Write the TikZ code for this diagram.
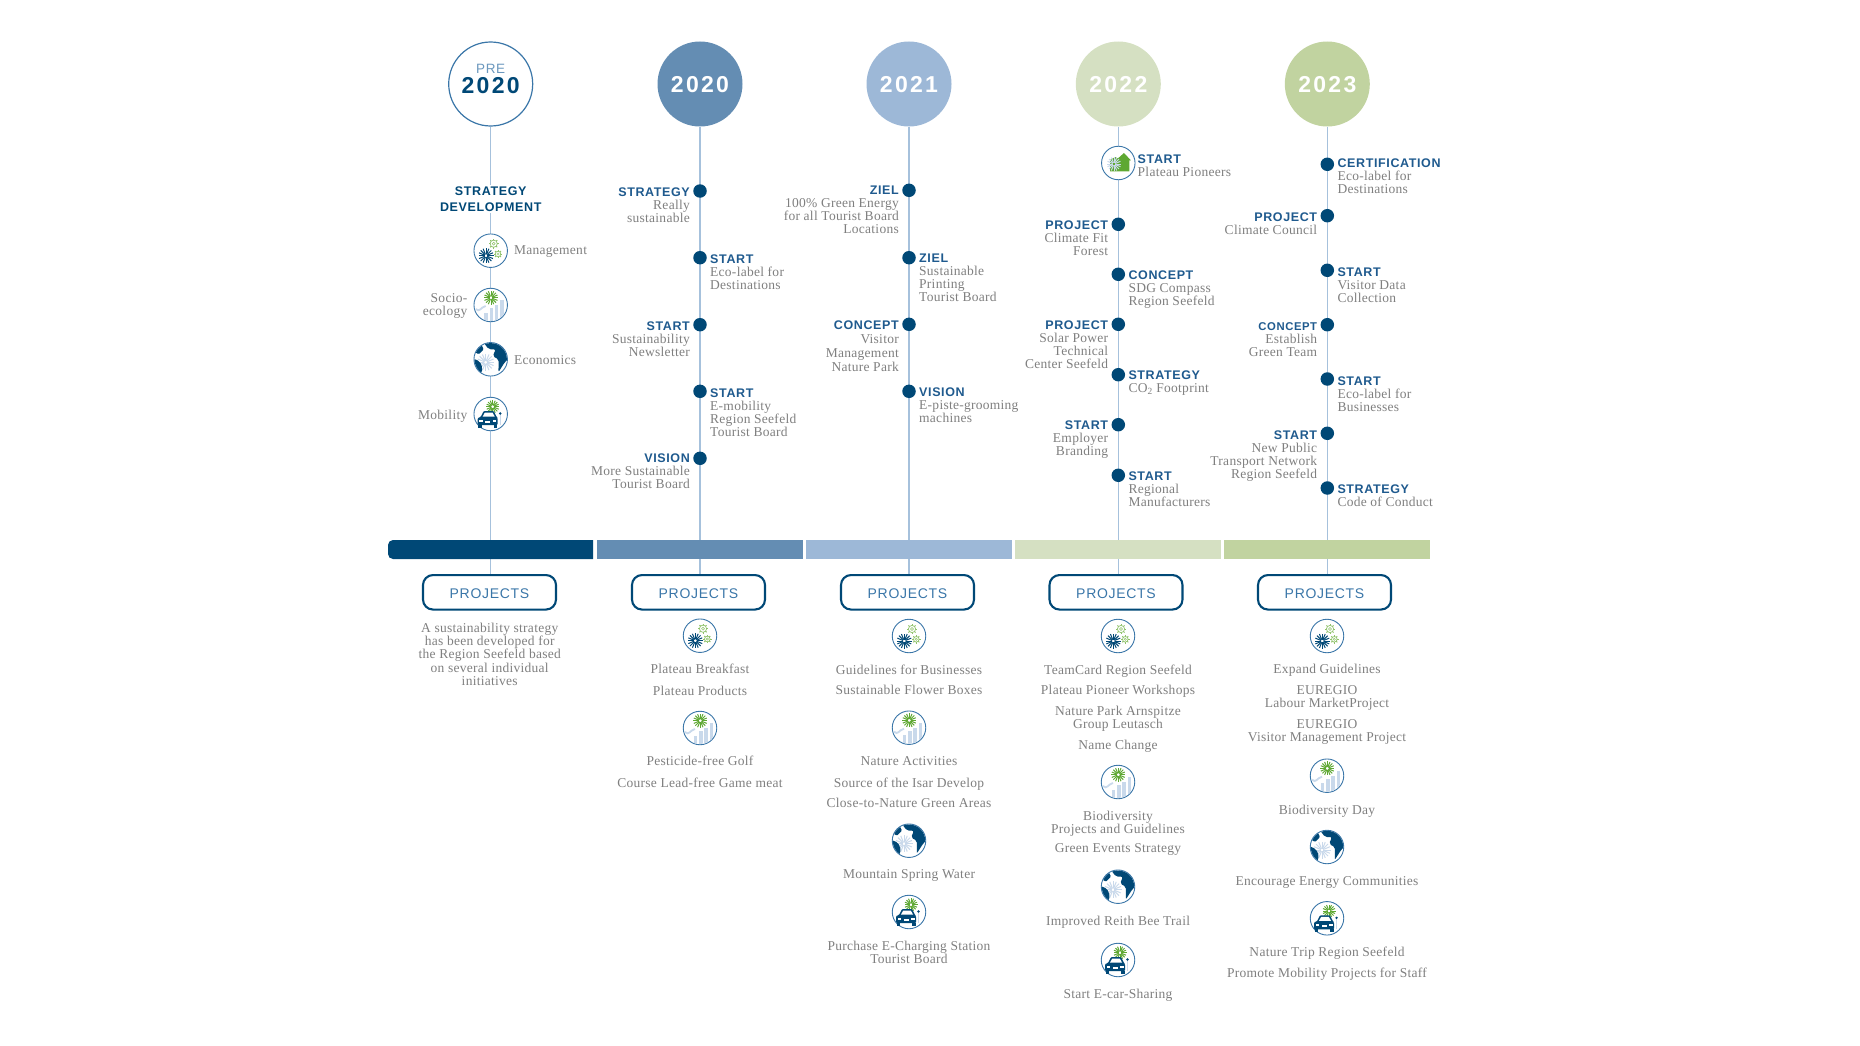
\documentclass[tikz,border=0pt]{standalone}
\usepackage{fontspec}
\usepackage{tikz}
\usetikzlibrary{shapes,arrows,positioning}
\setmainfont[LetterSpace=2]{Liberation Serif}
\newfontfamily\headfont[LetterSpace=5]{Liberation Sans}
\newfontfamily\yearfont[LetterSpace=10]{Liberation Sans}
\newfontfamily\boxfont[LetterSpace=5]{Liberation Sans}
\definecolor{navy}{HTML}{004876}
\definecolor{steelb}{HTML}{648DB3}
\definecolor{paleb}{HTML}{9DB8D7}
\definecolor{palegr}{HTML}{D5E0C2}
\definecolor{midgr}{HTML}{C1D3A0}
\definecolor{headblue}{HTML}{1F5A8E}
\definecolor{linkblue}{HTML}{A6C1DC}
\definecolor{ringblue}{HTML}{3A76A8}
\definecolor{bodygrey}{HTML}{7F7F7F}
\definecolor{leaf}{HTML}{5EA832}
\definecolor{softleaf}{HTML}{8FC26A}
\definecolor{citylight}{HTML}{C9D9EB}
\newcommand{\hd}[1]{{\headfont\fontsize{12.5}{13}\selectfont\bfseries\color{headblue}#1}}
\newcommand{\hds}[1]{{\headfont\fontsize{11.3}{13}\selectfont\bfseries\color{headblue}#1}}
\newcommand{\iconburst}[3]{\foreach \a in {0,22.5,...,337.5} \draw[#3,line width=1pt] (#1) ++(\a:1.4) -- ++(\a:#2-1.4);}
\newcommand{\iconcog}[2]{\draw[softleaf,line width=.7pt] (#1) circle (#2pt); \draw[softleaf,line width=.5pt] (#1) circle (#2pt*.4);
  \foreach \a in {0,45,...,315} \draw[softleaf,line width=1pt] (#1) ++(\a:#2) -- ++(\a:1.4);}
\begin{document}
\begin{tikzpicture}[x=1pt,y=-1pt,
  yearnode/.style={circle,minimum size=85pt,inner sep=0,text=white,font=\yearfont\fontsize{23}{22}\selectfont\bfseries},
  yeartext/.style={text height=18pt,text depth=0pt},
  projbox/.style={draw=navy,line width=2.1pt,rounded corners=10pt,minimum width=133pt,minimum height=34.5pt,inner sep=0,text height=12pt,text depth=0pt,text=ringblue,font=\boxfont\fontsize{14}{14}\selectfont},
  timeline/.style={linkblue,line width=1.5pt},
  barseg/.style={minimum height=19pt,inner sep=0,outer sep=0},
  dotnode/.style={circle,fill=navy,minimum size=13.5pt,inner sep=0},
  iconring/.style={circle,draw=ringblue,line width=.9pt,fill=white,minimum size=33.5pt,inner sep=0},
  side/.style={yshift=-1.2pt,inner sep=0,text=bodygrey,font=\fontsize{13.5}{13}\selectfont},
  lblR/.style={anchor=north east,xshift=-10pt,yshift=3.8pt,align=right,inner sep=0,text=bodygrey,font=\fontsize{13.5}{13}\selectfont},
  lblL/.style={anchor=north west,xshift=10pt,yshift=3.8pt,align=left,inner sep=0,text=bodygrey,font=\fontsize{13.5}{13}\selectfont},
  item/.style={anchor=north,align=center,inner sep=0,text=bodygrey,font=\fontsize{13.5}{13}\selectfont},
  pics/gears/.style={code={
    \node[iconring] (-ring) at (0,0) {};
    \iconburst{-4.7,5}{7.5}{navy}
    \iconcog{3,-7}{3.6}
    \iconcog{7.3,3.3}{2.8}
  }},
  pics/city/.style={code={
    \node[iconring] (-ring) at (0,0) {};
    \begin{scope}
      \clip (0,0) circle (16pt);
      \fill[citylight] (-6.3,7.7) rectangle (-3,16);
      \fill[citylight] (-.7,3.3) rectangle (2.7,16);
      \fill[citylight] (4.3,0) rectangle (7.7,16);
      \fill[citylight] (9.7,-5) rectangle (13.3,13);
      \draw[citylight,line width=1.8pt] (-15,4) .. controls (-11,8) and (-10,2) .. (-5,1);
    \end{scope}
    \iconburst{.3,-7.3}{7}{leaf}
  }},
  pics/globe/.style={code={
    \node[iconring] (-ring) at (0,0) {};
    \begin{scope}
      \clip (0,0) circle (16.2pt);
      \iconburst{-5,3}{8.5}{citylight}
      \fill[navy,rounded corners=2pt] (-8,-18) -- (-2,-10) -- (5,-10) -- (2,-3) -- (8,0) -- (7.7,13) -- (14,3) -- (18,-1) -- (18,-18) -- cycle;
      \fill[navy,rounded corners=2pt] (-18,-1) -- (-11,2) -- (-8,9) -- (-10,15) -- (-18,12) -- cycle;
      \fill[navy,rounded corners=1pt] (-17,-8) -- (-10,-16) -- (-7,-10) -- (-12,-5) -- cycle;
    \end{scope}
  }},
  pics/car/.style={code={
    \node[iconring] (-ring) at (0,0) {};
    \iconburst{2,-7.3}{6.5}{leaf}
    \fill[navy,rounded corners=1pt] (-10,3) -- (-7,-3) -- (3,-3) -- (6,3) -- (7,4) -- (7,11) -- (-13,11) -- (-13,4) -- cycle;
    \fill[white] (-8,2.5) -- (-5.8,-1.5) -- (1.8,-1.5) -- (4,2.5) -- cycle;
    \fill[white] (-11.5,5.5) rectangle (-8,7.5);
    \fill[white] (2,5.5) rectangle (5.5,7.5);
    \fill[white] (-5.5,7) rectangle (-.5,9);
    \fill[navy] (-12.5,11) rectangle (-9,13.5);
    \fill[navy] (3,11) rectangle (6.5,13.5);
    \draw[citylight,line width=1pt] (9.5,1) -- (9.5,11);
    \fill[navy] (9.5,-.5) circle (1.3pt);
  }},
  pics/house/.style={code={
    \node[iconring] (-ring) at (0,0) {};
    \fill[leaf] (-8.3,8.3) -- (-8.3,-3) -- (-3,-6) -- (-.5,-4.5) -- (5.7,-10) -- (12.5,-2.7) -- (11,-2.7) -- (11,8.3) -- cycle;
    \iconburst{-4.3,1}{7}{citylight}
  }}]
\useasboundingbox (0,0) rectangle (1860,1046);

\node[yearnode,draw=ringblue,line width=1.2pt,fill=white,minimum size=84pt,align=center,text=navy] (y0) at (490.7,84) {{\boxfont\fontsize{13.5}{12}\selectfont\mdseries\color{ringblue!75}PRE}\\[-2pt]2020\\[-11pt]\mbox{}};
\node[yearnode,yeartext,fill=steelb] (y1) at (700,84) {2020};
\node[yearnode,yeartext,fill=paleb] (y2) at (909,84) {2021};
\node[yearnode,yeartext,fill=palegr] (y3) at (1118.3,84) {2022};
\node[yearnode,yeartext,fill=midgr] (y4) at (1327.3,84) {2023};

\node[projbox] (p0) at (489.5,592.3) {PROJECTS};
\node[projbox] (p1) at (698.5,592.3) {PROJECTS};
\node[projbox] (p2) at (907.5,592.3) {PROJECTS};
\node[projbox] (p3) at (1116,592.3) {PROJECTS};
\node[projbox] (p4) at (1324.5,592.3) {PROJECTS};

\draw[timeline] (y0) -- (y0 |- p0.north);
\draw[timeline] (y1) -- (y1 |- p1.north);
\draw[timeline] (y2) -- (y2 |- p2.north);
\draw[timeline] (y3) -- (y3 |- p3.north);
\draw[timeline] (y4) -- (y4 |- p4.north);

\fill[navy] (593,540) -- (593,559) [rounded corners=5pt] -- (388,559) -- (388,540) [sharp corners] -- cycle;
\node[barseg,fill=steelb,minimum width=205.5pt] (b1) at (700,549.5) {};
\node[barseg,fill=paleb,minimum width=205.5pt] (b2) at (909,549.5) {};
\node[barseg,fill=palegr,minimum width=205.5pt] (b3) at (1118,549.5) {};
\node[barseg,fill=midgr,minimum width=205.5pt] (b4) at (1327,549.5) {};

\node[fill=white,inner sep=2pt,align=center,font=\headfont\fontsize{12.5}{16}\selectfont\bfseries,text=navy] (s0) at (490.7,199) {STRATEGY\\DEVELOPMENT};
\pic (m0) at (490.7,250.7) {gears};
\pic (e0) at (490.7,305) {city};
\pic (g0) at (490.7,359.3) {globe};
\pic (c0) at (490.7,414) {car};
\node[side,right=6pt of m0-ring] (tm0) {Management};
\node[side,align=right,left=6pt of e0-ring] (te0) {Socio-\\ecology};
\node[side,right=6pt of g0-ring] (tg0) {Economics};
\node[side,yshift=-1.2pt,left=6pt of c0-ring] (tc0) {Mobility};

\node[dotnode] (d11) at (700,191) {};
\node[dotnode] (d12) at (700,257.7) {};
\node[dotnode] (d13) at (700,324.7) {};
\node[dotnode] (d14) at (700,391.3) {};
\node[dotnode] (d15) at (700,458.3) {};
\node[lblR] (t11) at (d11) {\hd{STRATEGY}\\Really\\sustainable};
\node[lblL,yshift=-1pt] (t12) at (d12) {\hd{START}\\Eco-label for\\Destinations};
\node[lblR,yshift=-1pt] (t13) at (d13) {\hd{START}\\Sustainability\\Newsletter};
\node[lblL,yshift=-1pt] (t14) at (d14) {\hd{START}\\E-mobility\\Region Seefeld\\Tourist Board};
\node[lblR,yshift=1pt] (t15) at (d15) {\hd{VISION}\\More Sustainable\\Tourist Board};

\node[dotnode] (d21) at (909,190.3) {};
\node[dotnode] (d22) at (909,257.7) {};
\node[dotnode] (d23) at (909,324.3) {};
\node[dotnode] (d24) at (909,391.3) {};
\node[lblR,yshift=1pt] (t21) at (d21) {\hd{ZIEL}\\100\% Green Energy\\for all Tourist Board\\Locations};
\node[lblL] (t22) at (d22) {\hd{ZIEL}\\Sustainable\\Printing\\Tourist Board};
\node[lblR] (t23) at (d23) {\hd{CONCEPT}\\[1pt]Visitor\\[1pt]Management\\[1pt]Nature Park};
\node[lblL] (t24) at (d24) {\hd{VISION}\\E-piste-grooming\\machines};

\pic (h3) at (1118.3,163) {house};
\node[dotnode] (d32) at (1118.3,224.3) {};
\node[dotnode] (d33) at (1118.3,274.3) {};
\node[dotnode] (d34) at (1118.3,324.3) {};
\node[dotnode] (d35) at (1118.3,374.7) {};
\node[dotnode] (d36) at (1118.3,424.7) {};
\node[dotnode] (d37) at (1118.3,475.3) {};
\node[lblL,xshift=-8pt,yshift=5pt] (t31) at (h3-ring.east) {\hd{START}\\Plateau Pioneers};
\node[lblR] (t32) at (d32) {\hd{PROJECT}\\Climate Fit\\Forest};
\node[lblL] (t33) at (d33) {\hd{CONCEPT}\\SDG Compass\\Region Seefeld};
\node[lblR] (t34) at (d34) {\hd{PROJECT}\\Solar Power\\Technical\\Center Seefeld};
\node[lblL] (t35) at (d35) {\hd{STRATEGY}\\CO\textsubscript{2} Footprint};
\node[lblR] (t36) at (d36) {\hd{START}\\Employer\\Branding};
\node[lblL] (t37) at (d37) {\hd{START}\\Regional\\Manufacturers};

\node[dotnode] (d41) at (1327.3,164.3) {};
\node[dotnode] (d42) at (1327.3,215.7) {};
\node[dotnode] (d43) at (1327.3,270.3) {};
\node[dotnode] (d44) at (1327.3,324.7) {};
\node[dotnode] (d45) at (1327.3,379) {};
\node[dotnode] (d46) at (1327.3,433.3) {};
\node[dotnode] (d47) at (1327.3,488) {};
\node[lblL,yshift=2pt] (t41) at (d41) {\hd{CERTIFICATION}\\Eco-label for\\Destinations};
\node[lblR,yshift=-1pt] (t42) at (d42) {\hd{PROJECT}\\Climate Council};
\node[lblL,yshift=-1pt] (t43) at (d43) {\hd{START}\\Visitor Data\\Collection};
\node[lblR,yshift=-2pt] (t44) at (d44) {\hds{CONCEPT}\\Establish\\Green Team};
\node[lblL,yshift=-1pt] (t45) at (d45) {\hd{START}\\Eco-label for\\Businesses};
\node[lblR,yshift=-1pt] (t46) at (d46) {\hd{START}\\New Public\\Transport Network\\Region Seefeld};
\node[lblL] (t47) at (d47) {\hd{STRATEGY}\\Code of Conduct};

\node[item,font=\fontsize{13.5}{13.3}\selectfont] (a0) at (489.7,622.7) {A sustainability strategy\\has been developed for\\the Region Seefeld based\\on several individual\\initiatives};

\pic (m1) at (700,635.7) {gears};
\pic (e1) at (700,728) {city};
\node[item] (a11) at (700,664) {Plateau Breakfast};
\node[item] (a12) at (700,685.7) {Plateau Products};
\node[item] (a13) at (700,756) {Pesticide-free Golf};
\node[item] (a14) at (700,777.7) {Course Lead-free Game meat};

\pic (m2) at (909,636) {gears};
\pic (e2) at (909,727.7) {city};
\pic (g2) at (909,840.7) {globe};
\pic (c2) at (909,912) {car};
\node[item] (a21) at (909,664.3) {Guidelines for Businesses};
\node[item] (a22) at (909,685.3) {Sustainable Flower Boxes};
\node[item] (a23) at (909,756.7) {Nature Activities};
\node[item] (a24) at (909,777.7) {Source of the Isar Develop};
\node[item] (a25) at (909,798.3) {Close-to-Nature Green Areas};
\node[item] (a26) at (909,869.7) {Mountain Spring Water};
\node[item] (a27) at (909,941) {Purchase E-Charging Station\\Tourist Board};

\pic (m3) at (1118,636) {gears};
\pic (e3) at (1118,782) {city};
\pic (g3) at (1118,886.7) {globe};
\pic (c3) at (1118,960) {car};
\node[item] (a31) at (1118,664.3) {TeamCard Region Seefeld};
\node[item] (a32) at (1118,685.3) {Plateau Pioneer Workshops};
\node[item] (a33) at (1118,706) {Nature Park Arnspitze\\Group Leutasch};
\node[item] (a34) at (1118,740.3) {Name Change};
\node[item] (a35) at (1118,811) {Biodiversity\\Projects and Guidelines};
\node[item] (a36) at (1118,843.7) {Green Events Strategy};
\node[item] (a37) at (1118,915.7) {Improved Reith Bee Trail};
\node[item] (a38) at (1118,989) {Start E-car-Sharing};

\pic (m4) at (1327,636) {gears};
\pic (e4) at (1327,775.7) {city};
\pic (g4) at (1327,847) {globe};
\pic (c4) at (1327,918.3) {car};
\node[item] (a41) at (1327,664.3) {Expand Guidelines};
\node[item] (a42) at (1327,685.3) {EUREGIO\\Labour MarketProject};
\node[item] (a43) at (1327,719.3) {EUREGIO\\Visitor Management Project};
\node[item] (a44) at (1327,805) {Biodiversity Day};
\node[item] (a45) at (1327,876) {Encourage Energy Communities};
\node[item] (a46) at (1327,946.7) {Nature Trip Region Seefeld};
\node[item] (a47) at (1327,967.7) {Promote Mobility Projects for Staff};
\end{tikzpicture}
\end{document}
